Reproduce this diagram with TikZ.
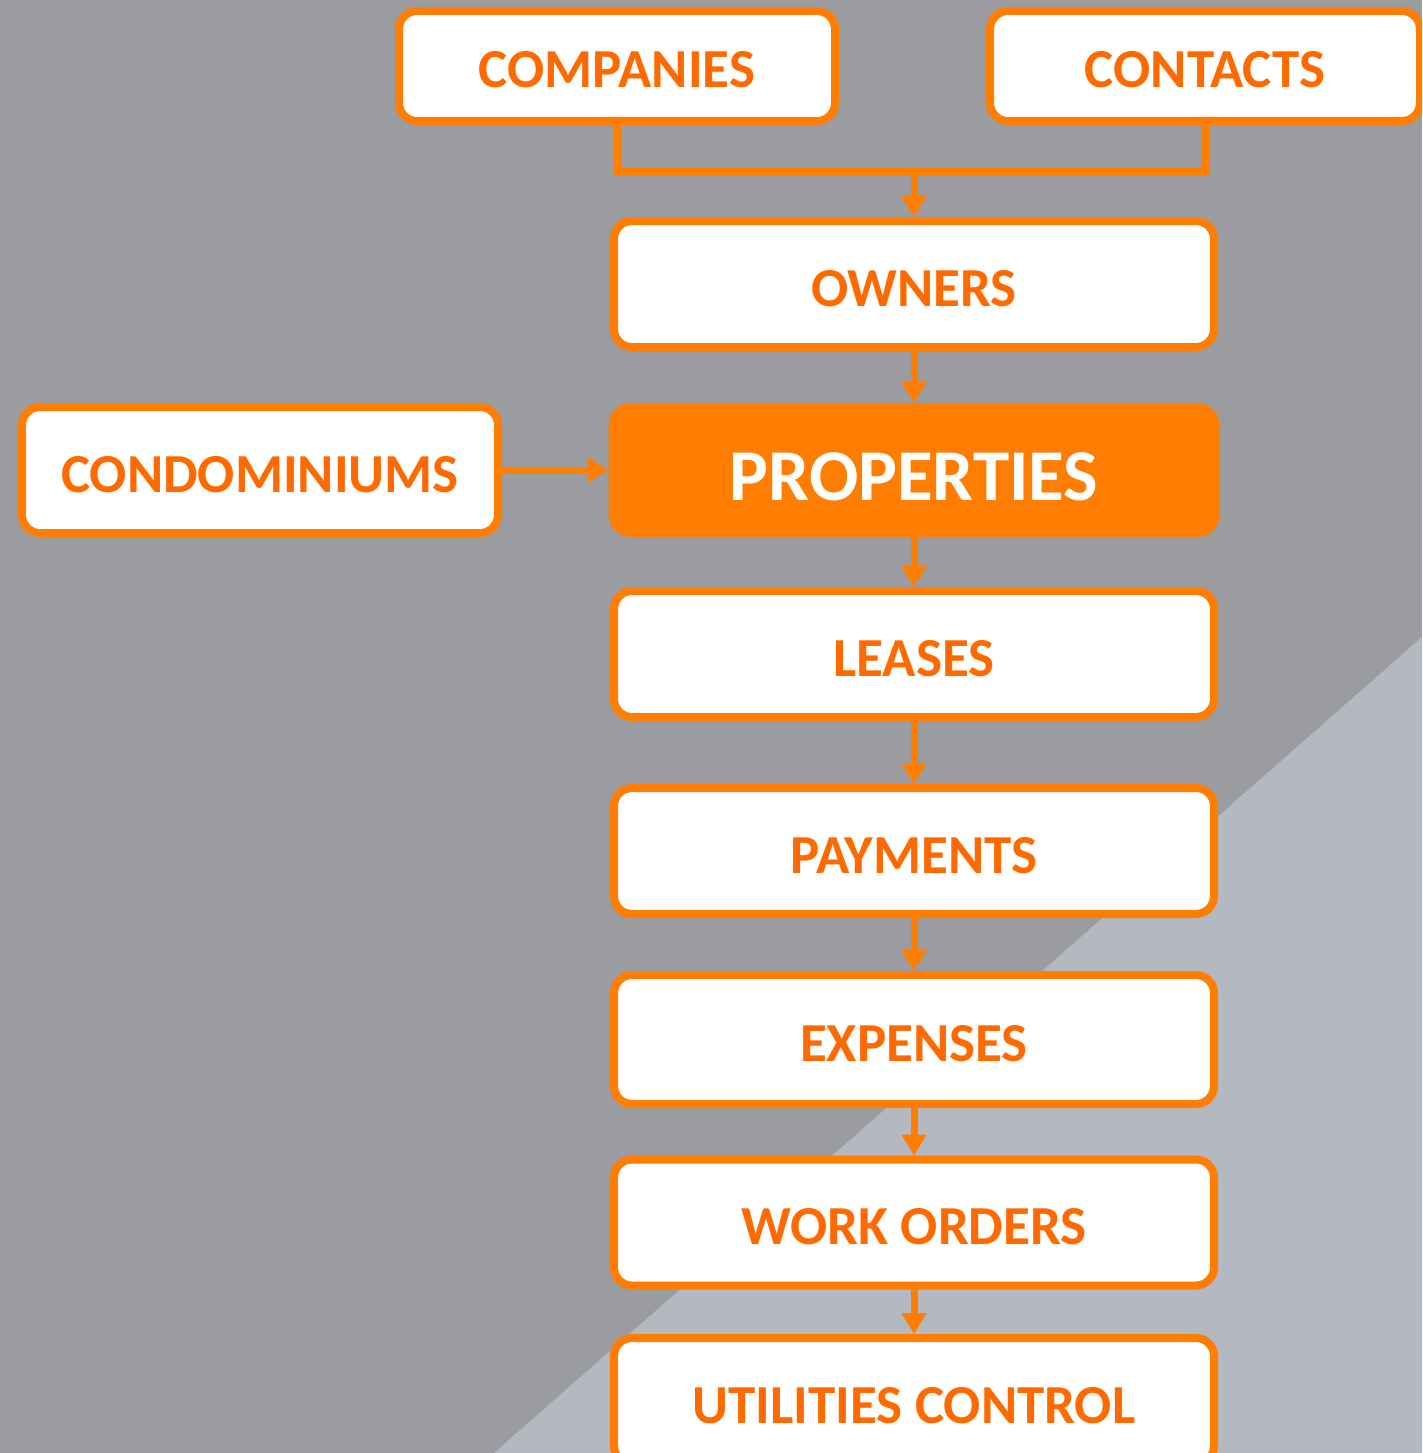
\documentclass[tikz,border=0pt]{standalone}
\usepackage{fontspec}
\setmainfont{Carlito}
\usetikzlibrary{arrows.meta}
\definecolor{bgdark}{RGB}{154,156,160}
\definecolor{bglight}{RGB}{180,184,193}
\definecolor{boxorange}{RGB}{255,125,0}
\definecolor{txtorange}{RGB}{255,106,0}
\tikzset{
  entity/.style={draw=boxorange, line width=8pt, fill=white, rounded corners=18pt,
    text=txtorange, font=\fontsize{55}{60}\selectfont\bfseries,
    text height=44pt, text depth=0pt, inner sep=0pt},
  mainbox/.style={entity, minimum width=600pt, minimum height=126pt},
  topbox/.style={entity, minimum width=436pt, minimum height=110pt},
  hub/.style={entity, fill=boxorange, text=white,
    font=\fontsize{73}{80}\selectfont\bfseries, text height=60pt},
  flow/.style={draw=boxorange, line width=7pt},
  flowarrow/.style={flow, -{Triangle[length=21pt,width=24pt]}},
}
\begin{document}
\begin{tikzpicture}[x=1pt,y=-1pt]
\useasboundingbox (0,0) rectangle (1422,1453);
\clip (0,0) rectangle (1422,1453);
\fill[bgdark] (0,0) rectangle (1422,1453);
\fill[bglight] (494,1453) -- (1422,637) -- (1422,1453) -- cycle;

\node[topbox] (companies) at (617,66) {COMPANIES};
\node[topbox, minimum width=430pt] (contacts) at (1205,66) {CONTACTS};
\node[mainbox] (owners) at (914,284) {OWNERS};
\node[hub, minimum width=603pt, minimum height=126pt] (properties) at (914,470) {PROPERTIES};
\node[entity, minimum width=476pt, minimum height=126pt] (condo) at (260,470) {CONDOMINIUMS};
\node[mainbox] (leases) at (914,654) {LEASES};
\node[mainbox] (payments) at (914,851) {PAYMENTS};
\node[mainbox, minimum height=129pt] (expenses) at (914,1039.5) {EXPENSES};
\node[mainbox] (workorders) at (914,1222.5) {WORK ORDERS};
\node[mainbox] (utilities) at (914,1401) {UTILITIES CONTROL};

\coordinate (join) at (914,171);
\draw[flow] (companies.south) |- (join) -| (contacts.south);
\draw[flowarrow] (join) -- (owners.north);
\draw[flowarrow] (owners.south) -- (properties.north);
\draw[flowarrow] (condo.east) -- (properties.west);
\draw[flowarrow] (properties.south) -- (leases.north);
\draw[flowarrow] (leases.south) -- (payments.north);
\draw[flowarrow] (payments.south) -- (expenses.north);
\draw[flowarrow] (expenses.south) -- (workorders.north);
\draw[flowarrow] (workorders.south) -- (utilities.north);
\end{tikzpicture}
\end{document}
